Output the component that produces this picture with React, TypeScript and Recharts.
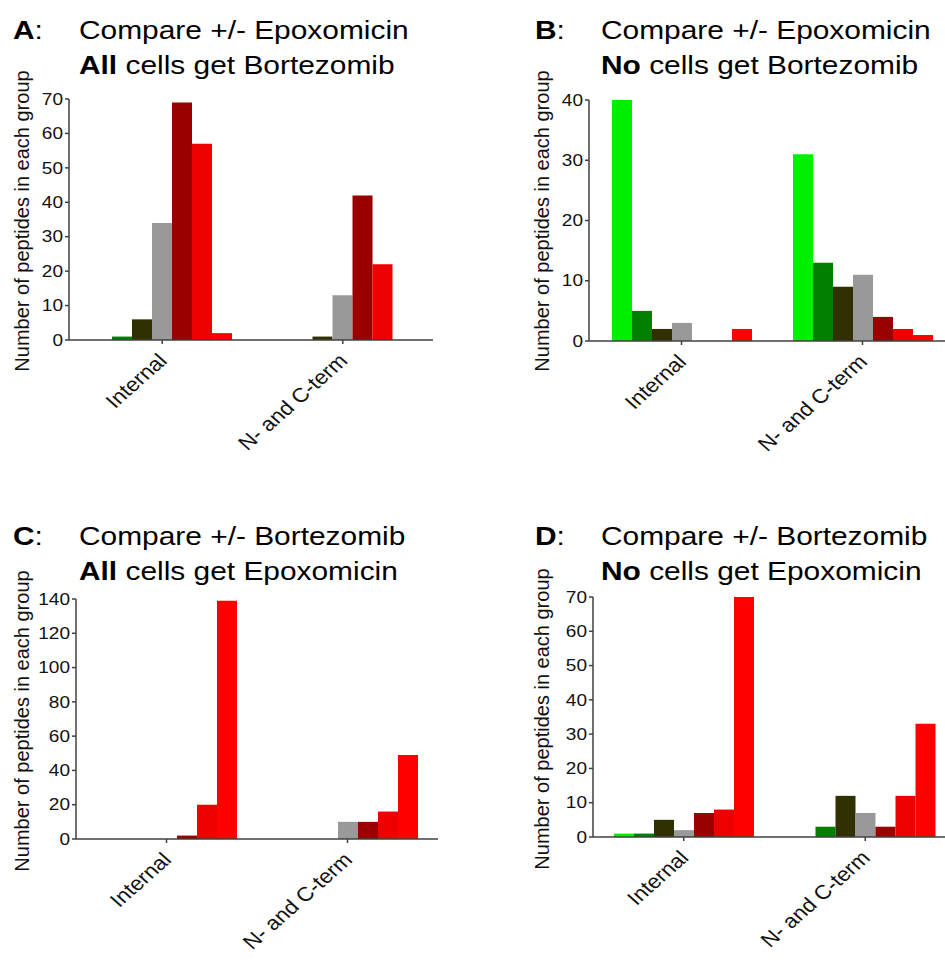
import React from 'react';
import { BarChart, Bar, XAxis, YAxis } from 'recharts';

const categories = ['Internal', 'N- and C-term'];
const seriesKeys = ['s1', 's2', 's3', 's4', 's5', 's6', 's7'];
const seriesColors = ['#00f000', '#007f00', '#303000', '#999999', '#990000', '#ee0000', '#ff0000'];

// values per category, 7 series each
const aInternal = [0, 1, 6, 34, 69, 57, 2];
const aTerm = [0, 0, 1, 13, 42, 22, 0];
const bInternal = [40, 5, 2, 3, 0, 0, 2];
const bTerm = [31, 13, 9, 11, 4, 2, 1];
const cInternal = [0, 0, 0, 0, 2, 20, 139];
const cTerm = [0, 0, 0, 10, 10, 16, 49];
const dInternal = [1, 1, 5, 2, 7, 8, 70];
const dTerm = [0, 3, 12, 7, 3, 12, 33];

const ticksA = [0, 10, 20, 30, 40, 50, 60, 70];
const ticksB = [0, 10, 20, 30, 40];
const ticksC = [0, 20, 40, 60, 80, 100, 120, 140];
const ticksD = [0, 10, 20, 30, 40, 50, 60, 70];

const yLabel = 'Number of peptides in each group';
const FONT = '"Liberation Sans", Arial, sans-serif';
const AXIS = '#404040';

function buildRows(internal: number[], term: number[]) {
  return categories.map((c, i) => {
    const vals = i === 0 ? internal : term;
    const row: any = { name: c };
    seriesKeys.forEach((k, j) => (row[k] = vals[j]));
    return row;
  });
}

const XTick = (props: any) => {
  const { x, y, payload } = props;
  return (
    <g transform={`translate(${x + 6},${y + 18}) scale(1.13,1) rotate(-45)`}>
      <text x={0} y={0} textAnchor="end" fontSize={20} fill="#111" fontFamily={FONT}>
        {payload.value}
      </text>
    </g>
  );
};

const YTick = (props: any) => {
  const { x, y, payload } = props;
  return (
    <g transform={`translate(${x},${y}) scale(1.12,1)`}>
      <text x={0} y={0} textAnchor="end" dominantBaseline="central" fontSize={17} fill="#111" fontFamily={FONT}>
        {payload.value}
      </text>
    </g>
  );
};

type PanelProps = {
  left: number; top: number; width: number; height: number;
  margin: { top: number; right: number; bottom: number; left: number };
  rows: any[]; ticks: number[]; padLeft: number;
};

const Panel = ({ left, top, width, height, margin, rows, ticks, padLeft }: PanelProps) => (
  <div style={{ position: 'absolute', left, top, width, height }}>
    <BarChart width={width} height={height} data={rows} margin={margin} barGap={0} barSize={20}>
      <XAxis
        dataKey="name"
        height={100}
        padding={{ left: padLeft, right: 0 }}
        stroke={AXIS}
        strokeWidth={1.5}
        tickSize={4}
        tickMargin={0}
        interval={0}
        tick={<XTick />}
        tickLine={{ stroke: AXIS }}
      />
      <YAxis
        width={50}
        type="number"
        domain={[ticks[0], ticks[ticks.length - 1]]}
        ticks={ticks}
        interval={0}
        stroke={AXIS}
        strokeWidth={1.5}
        tickSize={4}
        tickMargin={2}
        tick={<YTick />}
        tickLine={{ stroke: AXIS }}
        allowDataOverflow
      />
      {seriesKeys.map((k, j) => (
        <Bar key={k} dataKey={k} fill={seriesColors[j]} isAnimationActive={false} />
      ))}
    </BarChart>
  </div>
);

const Title = ({ x, y, letter, bold, line1, line2 }: any) => (
  <g>
    <text x={x} y={y} fontSize={26} fontFamily={FONT} fill="#000" transform={`translate(${x},0) scale(1.15,1) translate(${-x},0)`}>
      <tspan fontWeight="bold">{letter}</tspan>
      <tspan>:</tspan>
    </text>
    <text x={x + 66} y={y} fontSize={26} fontFamily={FONT} fill="#000" transform={`translate(${x + 66},0) scale(1.15,1) translate(${-(x + 66)},0)`}>
      {line1}
    </text>
    <text x={x + 66} y={y + 35} fontSize={26} fontFamily={FONT} fill="#000" transform={`translate(${x + 66},0) scale(1.15,1) translate(${-(x + 66)},0)`}>
      <tspan fontWeight="bold">{bold}</tspan>
      <tspan>{line2}</tspan>
    </text>
  </g>
);

const YLab = ({ cx, cy }: any) => (
  <text
    x={cx}
    y={cy}
    transform={`rotate(-90,${cx},${cy})`}
    textAnchor="middle"
    dominantBaseline="central"
    fontSize={20}
    fontFamily={FONT}
    fill="#111"
  >
    {yLabel}
  </text>
);

export default function App() {
  return (
    <div style={{ position: 'absolute', left: 0, top: 0, width: 945, height: 963, overflow: 'hidden', background: '#fff', fontFamily: FONT }}>
      <Panel left={0} top={0} width={470} height={480}
        margin={{ top: 99, right: 37, bottom: 40, left: 19 }}
        rows={buildRows(aInternal, aTerm)} ticks={ticksA} padLeft={3} />
      <Panel left={470} top={0} width={490} height={480}
        margin={{ top: 100, right: 7, bottom: 39, left: 69 }}
        rows={buildRows(bInternal, bTerm)} ticks={ticksB} padLeft={2} />
      <Panel left={0} top={500} width={470} height={463}
        margin={{ top: 99, right: 32, bottom: 24, left: 26 }}
        rows={buildRows(cInternal, cTerm)} ticks={ticksC} padLeft={0} />
      <Panel left={470} top={500} width={490} height={463}
        margin={{ top: 97, right: 4, bottom: 26, left: 73 }}
        rows={buildRows(dInternal, dTerm)} ticks={ticksD} padLeft={0} />
      <svg width={945} height={963} style={{ position: 'absolute', left: 0, top: 0, pointerEvents: 'none' }}>
        <Title x={13} y={39} letter="A" bold="All" line1="Compare +/- Epoxomicin" line2=" cells get Bortezomib" />
        <Title x={535} y={39} letter="B" bold="No" line1="Compare +/- Epoxomicin" line2=" cells get Bortezomib" />
        <Title x={13} y={545} letter="C" bold="All" line1="Compare +/- Bortezomib" line2=" cells get Epoxomicin" />
        <Title x={535} y={545} letter="D" bold="No" line1="Compare +/- Bortezomib" line2=" cells get Epoxomicin" />
        <YLab cx={22} cy={221} />
        <YLab cx={542} cy={221} />
        <YLab cx={22} cy={721} />
        <YLab cx={542} cy={719} />
      </svg>
    </div>
  );
}
